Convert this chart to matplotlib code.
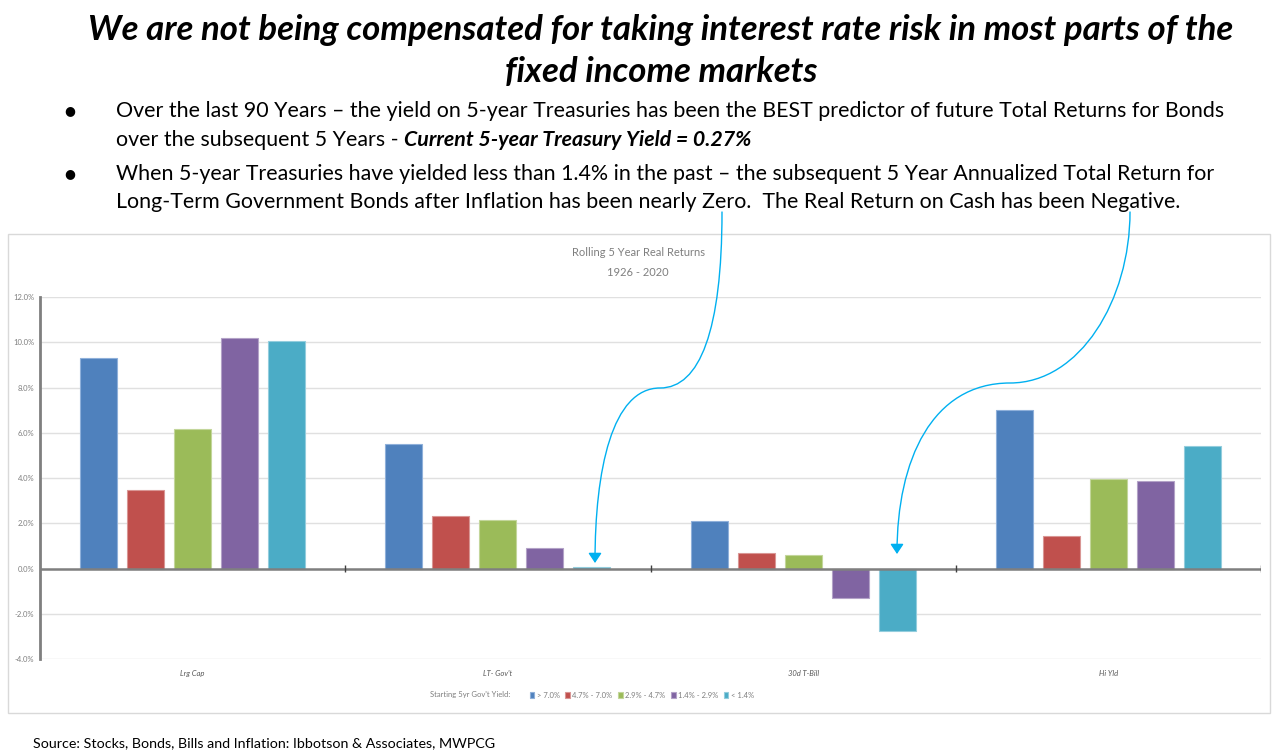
import matplotlib

matplotlib.use("Agg")
import matplotlib.pyplot as plt
import numpy as np
from matplotlib.patches import FancyArrowPatch, Rectangle
from matplotlib.path import Path

W, H = 1287, 756

categories = ["Lrg Cap", "LT- Gov't", "30d T-Bill", "Hi Yld"]
series_labels = ["> 7.0%", "4.7% - 7.0%", "2.9% - 4.7%", "1.4% - 2.9%", "< 1.4%"]
gt_7 = [9.3, 5.5, 2.1, 7.0]
y47_70 = [3.45, 2.3, 0.7, 1.45]
y29_47 = [6.15, 2.15, 0.6, 3.95]
y14_29 = [10.2, 0.9, -1.3, 3.85]
lt_14 = [10.05, 0.05, -2.75, 5.4]
series = [gt_7, y47_70, y29_47, y14_29, lt_14]
colors = ["#4F81BD", "#C0504D", "#9BBB59", "#8064A2", "#4BACC6"]
edges = ["#8FB0DA", "#D99694", "#C3D69B", "#B3A2C7", "#93CDDD"]
yticks = [-4, -2, 0, 2, 4, 6, 8, 10, 12]

FONT = "Lato"
ARROW = "#00B0F0"


def fx(px):
    return px / W


def fy(py):
    return 1 - py / H


fig = plt.figure(figsize=(W / 100, H / 100), dpi=100)
fig.patch.set_facecolor("white")

# chart frame
fig.add_artist(Rectangle((fx(8), fy(713)), fx(1262), 479 / H, transform=fig.transFigure,
                         fill=False, edgecolor="#D9D9D9", lw=1))

ax = fig.add_axes([fx(40), fy(659), fx(1221), 362 / H])
x = np.arange(len(categories))
step, width = 0.154, 0.121
for i, vals in enumerate(series):
    ax.bar(x + (i - 2) * step, vals, width, color=colors[i], edgecolor=edges[i],
           linewidth=0.8, label=series_labels[i], zorder=3)

ax.set_xlim(-0.5, 3.5)
ax.set_ylim(-4, 12)
ax.set_yticks(yticks)
ax.set_yticklabels([f"{v:.1f}%" for v in yticks], fontsize=5.5, color="#7F7F7F", family=FONT)
ax.tick_params(axis="y", length=0, pad=4)
ax.set_xticks([])
ax.grid(axis="y", color="#E0E0E0", lw=1, zorder=0)
for s in ["top", "right", "bottom"]:
    ax.spines[s].set_visible(False)
ax.spines["left"].set_color("#7F7F7F")
ax.spines["left"].set_linewidth(2)
ax.axhline(0, color="#7F7F7F", lw=1.8, zorder=4)
ax.vlines([0.5, 1.5, 2.5, 3.5], -0.15, 0.15, color="#404040", lw=1, zorder=5)
for xi, c in zip(x, categories):
    ax.text(xi, -4.65, c, ha="center", va="center", fontsize=5.5, style="italic",
            color="#595959", family=FONT)

# chart title
fig.text(fx(638), fy(253), "Rolling 5 Year Real Returns", ha="center", va="center",
         fontsize=8, color="#7F7F7F", family=FONT)
fig.text(fx(638), fy(272), "1926 - 2020", ha="center", va="center",
         fontsize=8, color="#7F7F7F", family=FONT)

# legend
fig.text(fx(430), fy(695), "Starting 5yr Gov't Yield:", ha="left", va="center",
         fontsize=5.5, color="#7F7F7F", family=FONT)
leg = fig.legend(loc="center left", bbox_to_anchor=(fx(523), fy(695)), ncol=5, frameon=False,
                 handlelength=0.6, handleheight=0.8, handletextpad=0.3, columnspacing=0.75,
                 prop={"family": FONT, "size": 5.5})
for t in leg.get_texts():
    t.set_color("#7F7F7F")

# headline
fig.text(fx(661), fy(30), "We are not being compensated for taking interest rate risk in most parts of the",
         ha="center", va="center", fontsize=25, weight="bold", style="italic", family=FONT)
fig.text(fx(661), fy(72), "fixed income markets", ha="center", va="center",
         fontsize=25, weight="bold", style="italic", family=FONT)

fs = 15.4
fig.text(fx(70), fy(111), "\u25CF", ha="center", va="center", fontsize=9, family="DejaVu Sans")
fig.text(fx(70), fy(174), "\u25CF", ha="center", va="center", fontsize=9, family="DejaVu Sans")
fig.text(fx(116), fy(111), "Over the last 90 Years \u2013 the yield on 5-year Treasuries has been the BEST "
         "predictor of future Total Returns for Bonds", ha="left", va="center", fontsize=fs, family=FONT)
t1 = fig.text(fx(116), fy(140), "over the subsequent 5 Years - ", ha="left", va="center",
              fontsize=fs, family=FONT)
fig.text(fx(116), fy(174), "When 5-year Treasuries have yielded less than 1.4% in the past \u2013 the subsequent "
         "5 Year Annualized Total Return for", ha="left", va="center", fontsize=fs, family=FONT)
fig.text(fx(116), fy(202), "Long-Term Government Bonds after Inflation has been nearly Zero.  "
         "The Real Return on Cash has been Negative.", ha="left", va="center", fontsize=fs, family=FONT)

fig.canvas.draw()
bb = t1.get_window_extent()
fig.text(bb.x1 / W, fy(140), "Current 5-year Treasury Yield = 0.27%", ha="left", va="center",
         fontsize=fs, weight="bold", style="italic", family=FONT)

fig.text(fx(33), fy(743), "Source: Stocks, Bonds, Bills and Inflation: Ibbotson & Associates, MWPCG",
         ha="left", va="center", fontsize=10.25, family=FONT)


# callout arrows
def callout(pts):
    verts = [(fx(a), fy(b)) for a, b in pts]
    codes = [Path.MOVETO] + [Path.CURVE4] * (len(verts) - 1)
    arr = FancyArrowPatch(path=Path(verts, codes), arrowstyle="-|>,head_length=6,head_width=4",
                          color=ARROW, lw=1, transform=fig.transFigure)
    fig.add_artist(arr)


callout([(722, 212), (722, 330), (700, 388), (660, 388),
         (612, 388), (595, 470), (595, 563)])
callout([(1130, 212), (1130, 300), (1080, 383), (1010, 383),
         (932, 383), (897, 460), (897, 554)])

fig.savefig("out.png", dpi=100)
